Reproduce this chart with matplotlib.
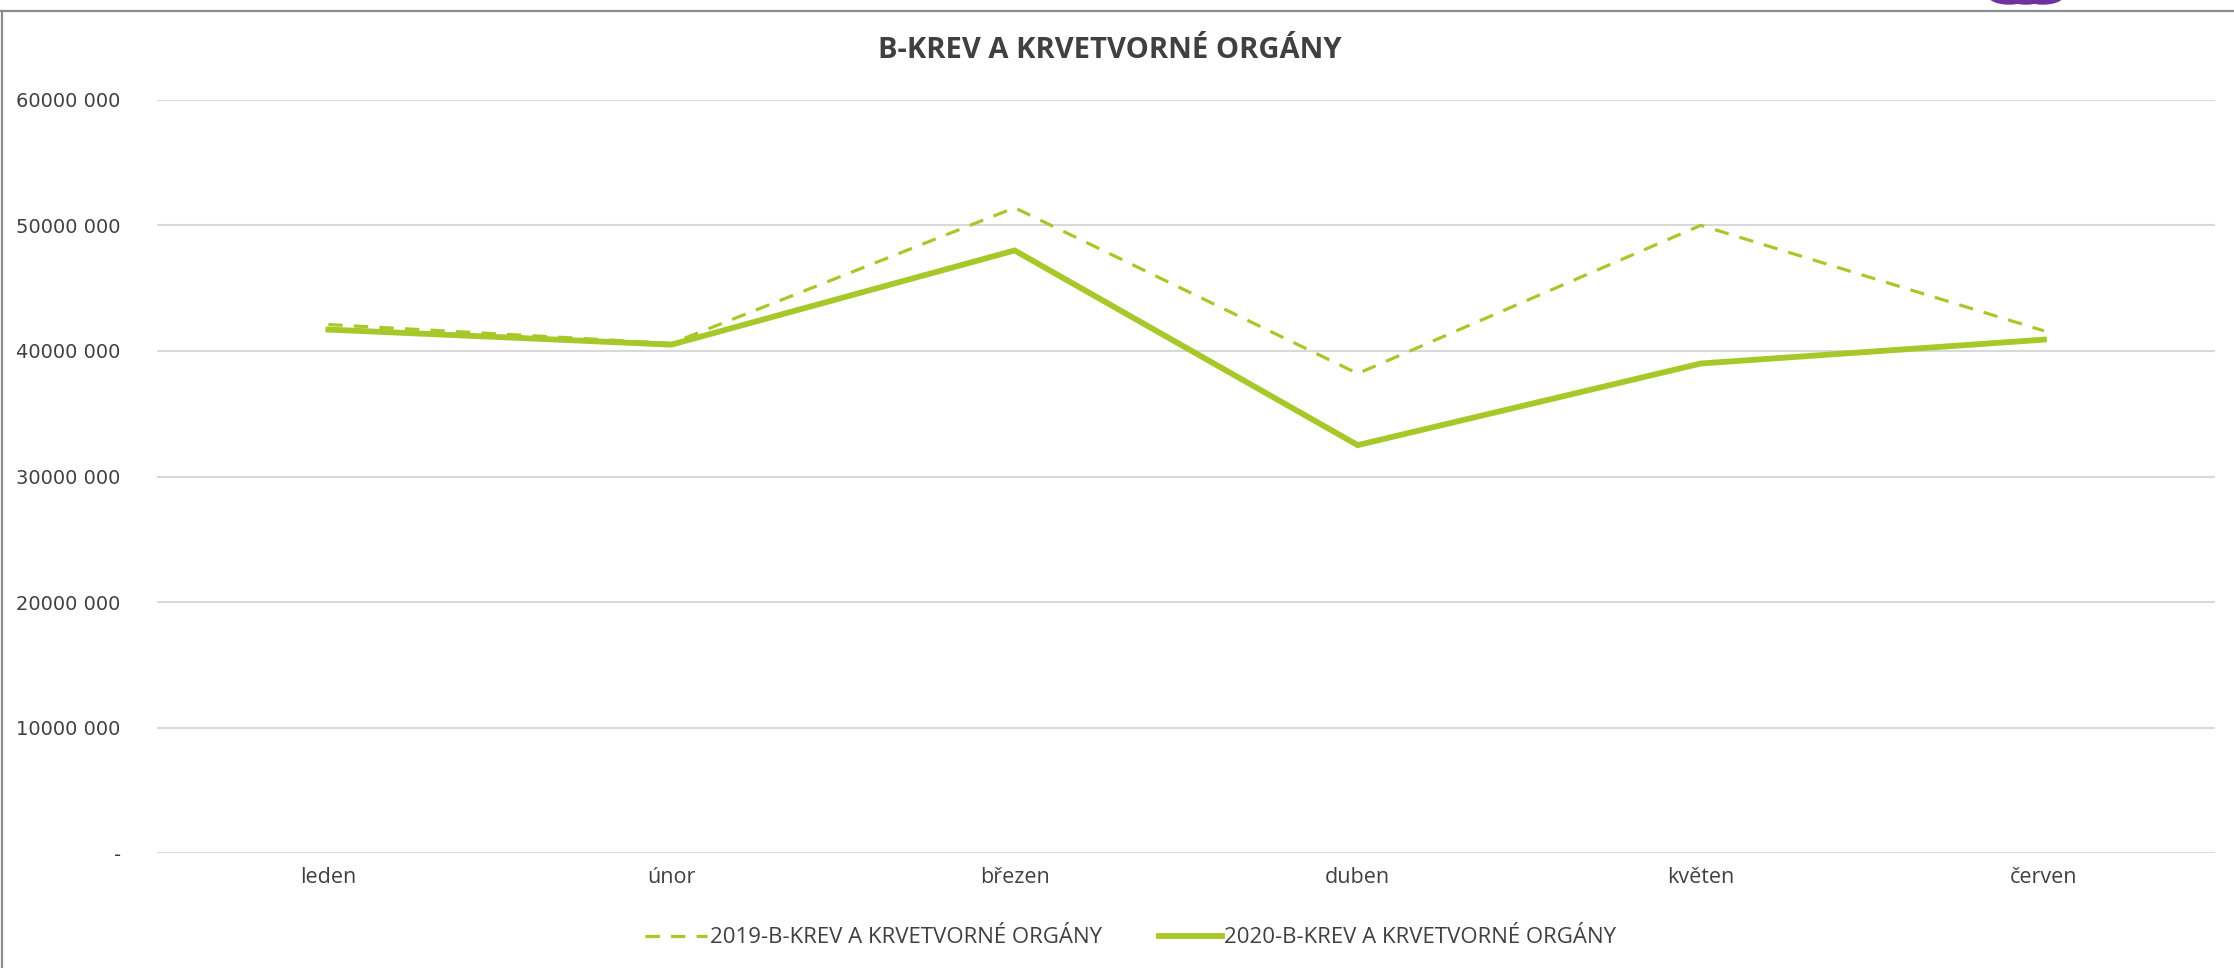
import matplotlib
matplotlib.use('Agg')
import matplotlib.pyplot as plt
import matplotlib.patches as patches
from matplotlib.lines import Line2D

months = ['leden', 'únor', 'březen', 'duben', 'květen', 'červen']
vals_2019 = [42100000, 40600000, 51400000, 38200000, 50000000, 41600000]
vals_2020 = [41700000, 40500000, 48000000, 32500000, 39000000, 40900000]
yticks = [0, 10000000, 20000000, 30000000, 40000000, 50000000, 60000000]
ytick_labels = ['-', '10000 000', '20000 000', '30000 000', '40000 000', '50000 000', '60000 000']
name_2019 = '2019-B-KREV A KRVETVORNÉ ORGÁNY'
name_2020 = '2020-B-KREV A KRVETVORNÉ ORGÁNY'
title = 'B-KREV A KRVETVORNÉ ORGÁNY'

green = '#A8C82A'
txt = '#404040'

fig = plt.figure(figsize=(22.34, 9.68), dpi=100)
ax = fig.add_axes([0.0702, 0.1184, 0.9215, 0.7786])

x = list(range(len(months)))
ax.plot(x, vals_2019, color=green, lw=2.3, ls=(0, (4.5, 3.5)), label=name_2019)
ax.plot(x, vals_2020, color=green, lw=4.2, solid_joinstyle='miter', label=name_2020)

ax.set_xlim(-0.5, len(months) - 0.5)
ax.set_ylim(0, 60000000)
ax.set_yticks(yticks)
ax.set_yticklabels(ytick_labels, fontsize=14, color='#404040', family='DejaVu Sans')
ax.set_xticks(x)
ax.set_xticklabels(months, fontsize=15.5, color=txt, family='Open Sans')
ax.tick_params(length=0, axis='y', pad=26)
ax.tick_params(length=0, axis='x', pad=10)
ax.grid(axis='y', color='#D9D9D9', lw=1.5)
ax.set_axisbelow(True)
for s in ax.spines.values():
    s.set_visible(False)

fig.text(0.497, 0.948, title, ha='center', va='center', fontsize=21,
         fontweight='bold', color=txt, family='Open Sans')

handles = [Line2D([], [], color=green, lw=2.3, ls=(0, (4.5, 3.5))),
           Line2D([], [], color=green, lw=4.2)]
fig.legend(handles, [name_2019, name_2020], loc='center', bbox_to_anchor=(0.506, 0.031),
           ncol=2, frameon=False, handlelength=2.8, handletextpad=0.1,
           columnspacing=2.6, prop={'family': 'Open Sans', 'size': 16})
for t in fig.legends[0].get_texts():
    t.set_color(txt)

# frame of the slide
fig.add_artist(Line2D([0, 1], [0.989, 0.989], color='#8C8C8C', lw=1.6, transform=fig.transFigure))
fig.add_artist(Line2D([0.001, 0.001], [0, 0.989], color='#8C8C8C', lw=1.6, transform=fig.transFigure))
# cut off logo dots
for cx in [2009, 2026, 2043]:
    fig.add_artist(patches.Circle((cx / 2234, 1 + 5 / 968), 9 / 968, transform=fig.transFigure,
                                  color='#7030A0', clip_on=False))

fig.savefig('out.png', dpi=100)
